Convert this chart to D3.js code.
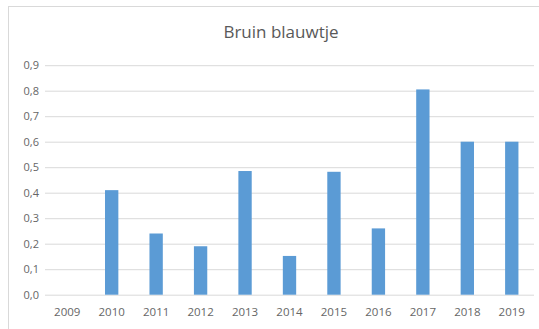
<!DOCTYPE html>
<html>
<head>
<meta charset="utf-8">
<script src="https://cdn.jsdelivr.net/npm/d3@7"></script>
<style>
  body { margin: 0; background: #fff; }
  text { font-family: "Open Sans", "Noto Sans", sans-serif; }
</style>
</head>
<body>
<svg id="chart" width="539" height="329"></svg>
<script>
var title = 'Bruin blauwtje'
var years = ['2009', '2010', '2011', '2012', '2013', '2014', '2015', '2016', '2017', '2018', '2019']
var values = [0, 0.41, 0.24, 0.19, 0.485, 0.152, 0.482, 0.26, 0.805, 0.6, 0.6]
var yTicks = [0, 0.1, 0.2, 0.3, 0.4, 0.5, 0.6, 0.7, 0.8, 0.9]

var svg = d3.select('#chart')

// light chart-area frame
svg.append('rect')
  .attr('x', 8.5).attr('y', 6.5)
  .attr('width', 540).attr('height', 330)
  .attr('fill', 'none')
  .attr('stroke', '#d9d9d9')

var x = d3.scaleBand()
  .domain(years)
  .range([45, 534])
  .paddingInner(0.7)
  .paddingOuter(0.35)

var y = d3.scaleLinear()
  .domain([0, 0.9])
  .range([294.7, 65.2])

var fmt = d => d3.format('.1f')(d).replace('.', ',')

// gridlines + y labels
var yAxis = d3.axisLeft(y)
  .tickValues(yTicks)
  .tickFormat(fmt)
  .tickSize(-(534 - 45))
  .tickPadding(6)

var gy = svg.append('g')
  .attr('transform', 'translate(45,0)')
  .call(yAxis)
gy.select('.domain').remove()
gy.selectAll('.tick line').attr('stroke', '#d9d9d9')
gy.selectAll('.tick text')
  .attr('fill', '#666')
  .style('font-size', '11px')

// x labels
var xAxis = d3.axisBottom(x).tickSize(0).tickPadding(13)
var gx = svg.append('g')
  .attr('transform', 'translate(0,' + y(0) + ')')
  .call(xAxis)
gx.select('.domain').remove()
gx.selectAll('.tick text')
  .attr('fill', '#666')
  .style('font-size', '11.5px')

// bars
svg.selectAll('rect.bar')
  .data(years.map((d, i) => ({year: d, value: values[i]})))
  .join('rect')
  .attr('class', 'bar')
  .attr('x', d => x(d.year))
  .attr('width', x.bandwidth())
  .attr('y', d => y(d.value))
  .attr('height', d => y(0) - y(d.value))
  .attr('fill', '#5b9bd5')

svg.append('text')
  .attr('x', 281)
  .attr('y', 38)
  .attr('text-anchor', 'middle')
  .attr('fill', '#595959')
  .style('font-size', '17px')
  .text(title)
</script>
</body>
</html>
